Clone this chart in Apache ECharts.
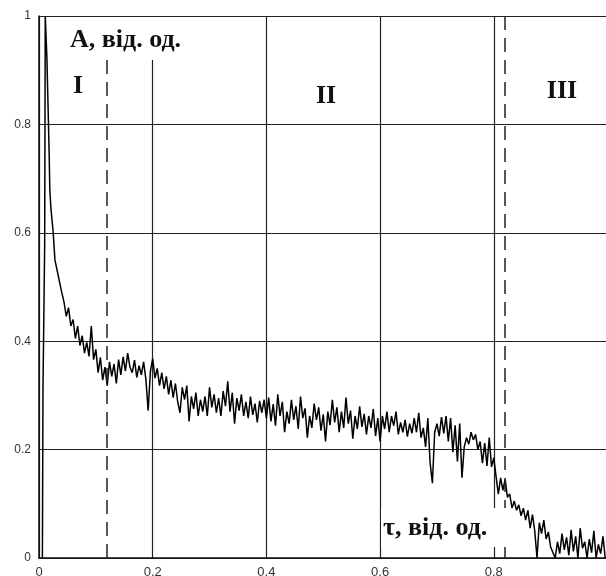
<!DOCTYPE html>
<html>
<head>
<meta charset="utf-8">
<script src="https://cdn.jsdelivr.net/npm/echarts@6/dist/echarts.min.js"></script>
<style>
html,body{margin:0;padding:0;background:#fff;}
#chart{width:606px;height:576px;}
</style>
</head>
<body>
<div id="chart"></div>
<script>
// Initial rise and fast decay (tau, A)
var headTau = [0.006, 0.007, 0.009, 0.010, 0.011, 0.013, 0.014, 0.016, 0.018, 0.019, 0.021, 0.025, 0.028, 0.033, 0.037, 0.040];
var headA   = [0.000, 0.310, 0.310, 0.580, 1.000, 1.000, 0.920, 0.830, 0.740, 0.680, 0.645, 0.600, 0.550, 0.525, 0.505, 0.490];

// Noisy part, sampled every 0.004 starting at tau = 0.044
var noiseStart = 0.044;
var noiseStep = 0.004;
var noiseA = [
  0.472,0.446,0.462,0.428,0.440,0.405,0.428,0.392,0.410,0.378,
  0.398,0.372,0.428,0.366,0.385,0.342,0.370,0.328,0.352,0.318,
  0.362,0.335,0.358,0.322,0.366,0.338,0.371,0.345,0.378,0.352,
  0.342,0.365,0.333,0.355,0.338,0.362,0.330,0.272,0.345,0.368,
  0.332,0.350,0.318,0.342,0.312,0.335,0.302,0.328,0.296,0.322,
  0.288,0.268,0.315,0.292,0.318,0.252,0.298,0.275,0.305,0.262,
  0.292,0.270,0.298,0.262,0.315,0.278,0.302,0.268,0.295,0.262,
  0.308,0.280,0.326,0.270,0.305,0.248,0.295,0.272,0.302,0.262,
  0.288,0.258,0.298,0.264,0.285,0.250,0.290,0.268,0.292,0.258,
  0.296,0.252,0.284,0.244,0.302,0.262,0.288,0.232,0.270,0.248,
  0.292,0.255,0.280,0.238,0.298,0.258,0.276,0.222,0.262,0.240,
  0.285,0.255,0.278,0.235,0.265,0.215,0.270,0.245,0.292,0.250,
  0.278,0.232,0.270,0.240,0.296,0.248,0.272,0.220,0.262,0.238,
  0.280,0.242,0.266,0.228,0.262,0.240,0.275,0.225,0.258,0.215,
  0.262,0.238,0.270,0.232,0.262,0.244,0.270,0.228,0.250,0.232,
  0.255,0.224,0.248,0.230,0.258,0.232,0.268,0.222,0.240,0.205,
  0.258,0.175,0.138,0.232,0.248,0.225,0.260,0.230,0.262,0.215,
  0.258,0.195,0.245,0.178,0.248,0.148,0.205,0.222,0.210,0.232,
  0.218,0.228,0.200,0.215,0.175,0.212,0.170,0.222,0.168,0.185,
  0.150,0.118,0.148,0.125,0.145,0.112,0.118,0.092,0.105,0.088,
  0.098,0.078,0.092,0.070,0.088,0.055,0.080,0.050,0.000,0.065,
  0.045,0.070,0.035,0.048,0.020,0.010,0.000,0.030,0.008,0.045,
  0.015,0.038,0.005,0.052,0.012,0.040,0.000,0.055,0.018,0.030,
  0.000,0.035,0.010,0.050,0.000,0.025,0.008,0.040,0.000
];

// Region boundaries (dashed lines)
var boundaries = [0.121, 0.821];

// Axis ticks
var xTicks = {min: 0, max: 1, interval: 0.2};
var yTicks = {min: 0, max: 1, interval: 0.2};

// Texts
var yTitle = 'А, від. од.';
var xTitle = 'τ, від. од.';
var regionNames = ['I', 'II', 'III'];

var data = [];
for (var i = 0; i < headTau.length; i++) data.push([headTau[i], headA[i]]);
for (var j = 0; j < noiseA.length; j++) data.push([+(noiseStart + j * noiseStep).toFixed(4), noiseA[j]]);

var chart = echarts.init(document.getElementById('chart'), null, {renderer: 'canvas'});
var labelFont = '"Liberation Sans Narrow", "Liberation Sans", Arial, sans-serif';
var bigFont = 'bold 26px "Liberation Serif", "Times New Roman", serif';

chart.setOption({
  animation: false,
  backgroundColor: '#ffffff',
  grid: {left: 39, top: 16, width: 568.5, height: 542, containLabel: false, outerBoundsMode: 'none'},
  xAxis: {
    type: 'value', min: xTicks.min, max: xTicks.max, interval: xTicks.interval,
    axisLine: {show: true, lineStyle: {color: '#111', width: 1.5}},
    axisTick: {show: false},
    axisLabel: {color: '#333', fontSize: 13, fontFamily: labelFont, margin: 8, showMaxLabel: false},
    splitLine: {show: true, lineStyle: {color: '#222', width: 1.2}}
  },
  yAxis: {
    type: 'value', min: yTicks.min, max: yTicks.max, interval: yTicks.interval,
    axisLine: {show: true, lineStyle: {color: '#111', width: 1.5}},
    axisTick: {show: false},
    axisLabel: {color: '#333', fontSize: 12, fontFamily: labelFont, margin: 8},
    splitLine: {show: true, lineStyle: {color: '#222', width: 1.2}}
  },
  series: [{
    type: 'line',
    data: data,
    showSymbol: false,
    symbol: 'none',
    clip: true,
    lineStyle: {color: '#000', width: 1.5},
    markLine: {
      silent: true,
      symbol: 'none',
      label: {show: false},
      lineStyle: {color: '#222', width: 1.5, type: [14, 8]},
      data: boundaries.map(function (b) { return {xAxis: b}; })
    }
  }],
  graphic: [
    {type: 'rect', z: 100, shape: {x: 66, y: 17, width: 136, height: 43}, style: {fill: '#fff'}},
    {type: 'text', z: 101, x: 70, y: 40, style: {text: yTitle, font: bigFont, fill: '#111', textAlign: 'left', textVerticalAlign: 'middle'}},
    {type: 'text', z: 101, x: 78, y: 86, style: {text: regionNames[0], font: bigFont, fill: '#111', textAlign: 'center', textVerticalAlign: 'middle'}},
    {type: 'text', z: 101, x: 326, y: 96, style: {text: regionNames[1], font: bigFont, fill: '#111', textAlign: 'center', textVerticalAlign: 'middle'}},
    {type: 'text', z: 101, x: 562, y: 91, style: {text: regionNames[2], font: bigFont, fill: '#111', textAlign: 'center', textVerticalAlign: 'middle'}},
    {type: 'rect', z: 100, shape: {x: 381, y: 508, width: 126, height: 39}, style: {fill: '#fff'}},
    {type: 'text', z: 101, x: 383, y: 528, style: {text: xTitle, font: bigFont, fill: '#111', textAlign: 'left', textVerticalAlign: 'middle'}}
  ]
});
</script>
</body>
</html>
